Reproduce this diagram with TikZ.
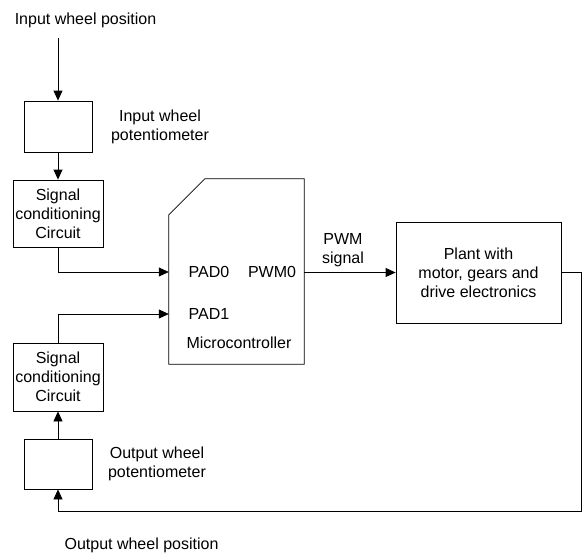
\documentclass[tikz,border=0pt]{standalone}
\usepackage{fontspec}
\setmainfont{Liberation Sans}
\usetikzlibrary{arrows.meta}
\begin{document}
\begin{tikzpicture}[x=1pt,y=-1pt,
  every node/.style={font=\fontsize{16}{19}\selectfont, inner sep=0pt, align=center},
  blk/.style={draw, line width=0.8pt, minimum width=#1},
  arr/.style={line width=0.8pt, -{Triangle[length=10pt,width=9pt]}},
  ln/.style={line width=0.8pt}]
\useasboundingbox (0,0) rectangle (582,557);
\node (inpos) at (85.5,20) {Input wheel position};
\node[blk=68, minimum height=51] (pot1) at (58,126.5) {};
\node (pot1l) at (160,126.5) {Input wheel\\potentiometer};
\node[blk=90, minimum height=67] (sc1) at (58,213.5) {Signal\\conditioning\\Circuit};
\node[minimum width=135, minimum height=185] (micro) at (236.5,271.5) {};
\draw[ln] (micro.south west) -- ([yshift=-36pt]micro.north west) -- ([xshift=36pt]micro.north west) -- (micro.north east) -- (micro.south east) -- cycle;
\node (pad0) at (209,272) {PAD0};
\node (pwm0) at (272,272) {PWM0};
\node (pad1) at (209,314) {PAD1};
\node (mcl) at (239,343) {Microcontroller};
\node (pwml) at (343,250) {PWM\\signal};
\node[blk=165, minimum height=101] (plant) at (478.5,272.5) {Plant with\\motor, gears and\\drive electronics};
\node[blk=90, minimum height=68] (sc2) at (58,377) {Signal\\conditioning\\Circuit};
\node[blk=68, minimum height=50] (pot2) at (58,464) {};
\node (pot2l) at (157,464) {Output wheel\\potentiometer};
\node (outpos) at (141.5,545) {Output wheel position};
\coordinate (intop) at (58,38);
\coordinate (fb) at (581,511);
\draw[arr] (intop) -- (pot1.north);
\draw[arr] (pot1.south) -- (sc1.north);
\draw[arr] (sc1.south) |- (micro.west |- pad0);
\draw[arr] (sc2.north) |- (micro.west |- pad1);
\draw[arr] (micro.east |- plant.west) -- (plant.west);
\draw[arr] (plant.east) -| (fb) -| (pot2.south);
\draw[arr] (pot2.north) -- (sc2.south);
\end{tikzpicture}
\end{document}
